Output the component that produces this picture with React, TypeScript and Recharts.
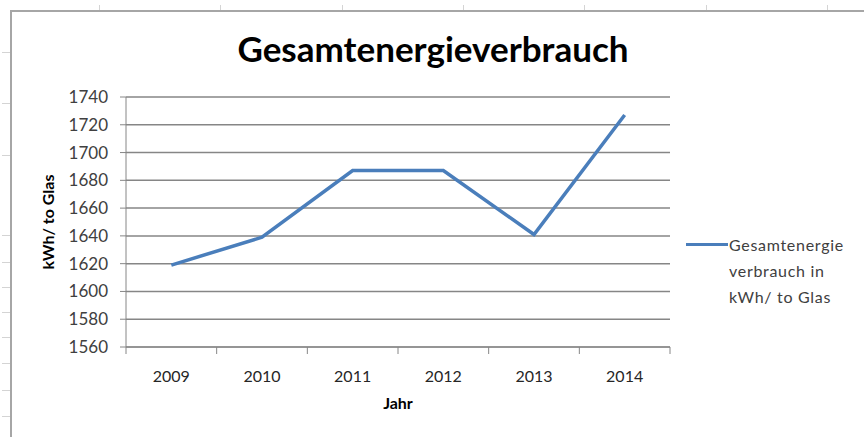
import { LineChart, Line, XAxis, YAxis, CartesianGrid, Label } from 'recharts';

const years = ['2009', '2010', '2011', '2012', '2013', '2014'];
const energy = [1619, 1639, 1687, 1687, 1641, 1727];
const yTicks = [1560, 1580, 1600, 1620, 1640, 1660, 1680, 1700, 1720, 1740];
const seriesName = 'Gesamtenergieverbrauch in kWh/ to Glas';
const legendLines = ['Gesamtenergie', 'verbrauch in', 'kWh/ to Glas'];

// spreadsheet cells behind the chart
const colMarks = [99, 220, 342, 463, 584, 706, 827];
const rowMarks = [52, 103, 155, 235, 262, 287, 312, 337, 363, 390, 416];

const W = 864;
const H = 437;
const PLOT_LEFT = 126;
const PLOT_RIGHT = 670;
const FONT = 'Lato, "Open Sans", sans-serif';
const AXIS = '#868686';
const BLUE = '#4a7ebb';

const data = years.map((year, i) => ({ year, energy: energy[i] }));

const half = (PLOT_RIGHT - PLOT_LEFT) / years.length / 2;

const YearTick = (props: any) => {
  const { x, y, payload, index } = props;
  return (
    <g>
      <line x1={x - half} x2={x - half} y1={y} y2={y + 7} stroke={AXIS} strokeWidth={1} />
      {index === years.length - 1 && (
        <line x1={x + half} x2={x + half} y1={y} y2={y + 7} stroke={AXIS} strokeWidth={1} />
      )}
      <text x={x} y={y + 35} textAnchor="middle" fontSize={16} fill="#262626" fontFamily={FONT}>
        {payload.value}
      </text>
    </g>
  );
};

const LegendBox = () => (
  <div
    title={seriesName}
    style={{ position: 'absolute', left: 686, top: 232, fontFamily: FONT, fontSize: 16, letterSpacing: 0.7, color: '#404040' }}
  >
    <div style={{ position: 'absolute', left: 0, top: 11, width: 42, height: 3, background: BLUE }} />
    <div style={{ position: 'absolute', left: 43, top: 0, lineHeight: '26px', whiteSpace: 'nowrap' }}>
      {legendLines.map((t) => (
        <div key={t}>{t}</div>
      ))}
    </div>
  </div>
);

export default function App() {
  return (
    <div style={{ position: 'absolute', left: 0, top: 0, width: W, height: H, background: '#fff', overflow: 'hidden' }}>
      {colMarks.map((x) => (
        <div key={'c' + x} style={{ position: 'absolute', left: x, top: 5, width: 1, height: 6, background: '#d4d4d4' }} />
      ))}
      {rowMarks.map((y) => (
        <div key={'r' + y} style={{ position: 'absolute', left: 2, top: y, width: 9, height: 1, background: '#d4d4d4' }} />
      ))}
      <div
        style={{
          position: 'absolute',
          left: 10,
          top: 10,
          width: W,
          height: H,
          borderLeft: '2px solid #a6a6a6',
          borderTop: '2px solid #a6a6a6',
          boxSizing: 'border-box',
        }}
      />
      <div
        style={{
          position: 'absolute',
          left: 0,
          width: 866,
          top: 27,
          textAlign: 'center',
          fontFamily: FONT,
          fontWeight: 'bold',
          fontSize: 35,
          color: '#000',
        }}
      >
        Gesamtenergieverbrauch
      </div>
      <div style={{ position: 'absolute', left: 0, top: 0 }}>
        <LineChart width={W} height={H} data={data} margin={{ top: 97, right: W - PLOT_RIGHT, bottom: 0, left: 0 }}>
          <CartesianGrid vertical={false} stroke={AXIS} strokeWidth={1.5} />
          <XAxis
            dataKey="year"
            height={90}
            stroke={AXIS}
            tickLine={false}
            tickSize={0}
            tickMargin={0}
            interval={0}
            padding={{ left: half, right: half }}
            tick={<YearTick />}
          >
            <Label value="Jahr" position="insideTop" offset={51} fontSize={16} fontWeight="bold" fill="#000" fontFamily={FONT} />
          </XAxis>
          <YAxis
            width={PLOT_LEFT}
            domain={[1560, 1740]}
            ticks={yTicks}
            interval={0}
            stroke={AXIS}
            tickSize={6}
            tickMargin={12}
            tick={{ fontSize: 17, fill: '#404040', fontFamily: FONT }}
          >
            <Label
              value="kWh/ to Glas"
              angle={-90}
              position="insideLeft"
              offset={40}
              dx={8}
              style={{ textAnchor: 'middle' }}
              fontSize={16}
              fontWeight="bold"
              fill="#000"
              fontFamily={FONT}
            />
          </YAxis>
          <Line
            type="linear"
            dataKey="energy"
            name={seriesName}
            stroke={BLUE}
            strokeWidth={3.5}
            dot={false}
            activeDot={false}
            isAnimationActive={false}
          />
        </LineChart>
      </div>
      <LegendBox />
    </div>
  );
}
